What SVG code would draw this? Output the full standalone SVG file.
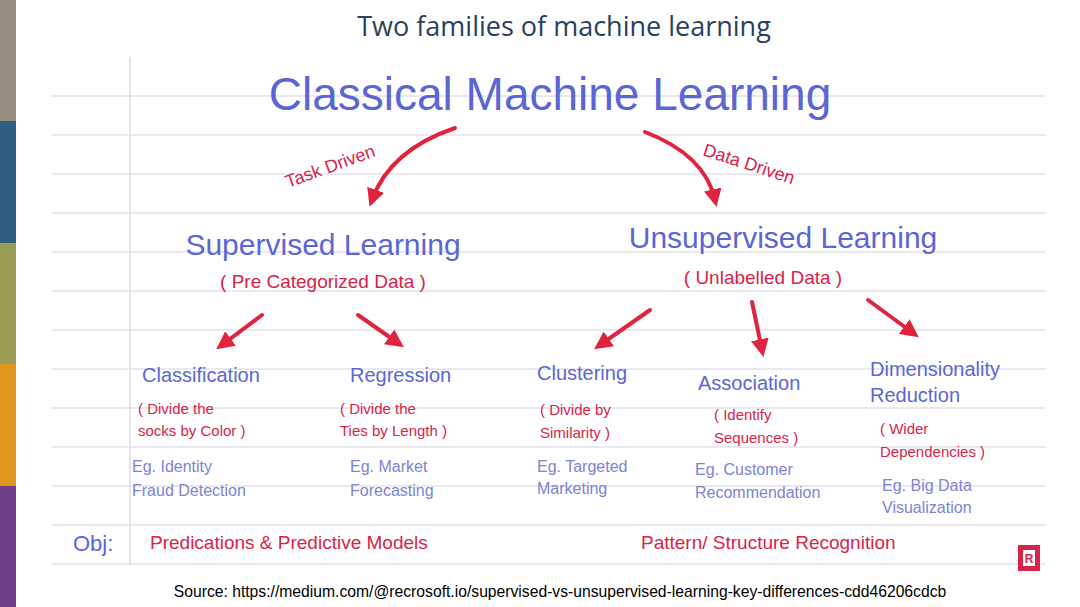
<svg xmlns="http://www.w3.org/2000/svg" width="1080" height="607" viewBox="0 0 1080 607">
<defs>
<style>
.b{fill:#5a66d6;font-family:"Liberation Sans",sans-serif}
.r{fill:#d8234a;font-family:"Liberation Sans",sans-serif}
.p{fill:#d8234a;font-family:"Liberation Sans",sans-serif;font-size:15px}
.e{fill:#7b84d4;font-family:"Liberation Sans",sans-serif;font-size:16px}
.ln{stroke:#e4e2ec;stroke-width:1.5}
.ar{stroke:#e0243f;stroke-width:4;fill:none;stroke-linecap:round}
</style>
<marker id="ah" viewBox="0 0 10 10" refX="6" refY="5" markerWidth="4.5" markerHeight="4.5" orient="auto"><path d="M0,0L10,5L0,10z" fill="#e0243f"/></marker>
</defs>
<rect width="1080" height="607" fill="#fff"/>
<rect x="0" y="0" width="16" height="121" fill="#958d80"/>
<rect x="0" y="121" width="16" height="122" fill="#2f5f7f"/>
<rect x="0" y="243" width="16" height="121" fill="#9a9d55"/>
<rect x="0" y="364" width="16" height="122" fill="#e0961f"/>
<rect x="0" y="486" width="16" height="121" fill="#6f3d8a"/>
<text x="564" y="36" text-anchor="middle" font-family="'Open Sans',sans-serif" font-size="27" fill="#2a3f5f">Two families of machine learning</text>
<g id="paper">
<path class="ln" d="M52 96H1045M52 135H1045M52 174H1045M52 213H1045M52 252H1045M52 291H1045M52 330H1045M52 369H1045M52 408H1045M52 447H1045M52 486H1045M52 525H1045M52 564H1045"/>
<line x1="130" y1="57" x2="130" y2="565" stroke="#e6d8e2" stroke-width="1.5"/>
</g>
<g id="connectors">
<path class="ar" d="M455 128Q390 150 372 200" marker-end="url(#ah)"/>
<path class="ar" d="M645 132Q705 155 715 200" marker-end="url(#ah)"/>
<path class="ar" d="M262 315L222 345" marker-end="url(#ah)"/>
<path class="ar" d="M358 315L398 343" marker-end="url(#ah)"/>
<path class="ar" d="M650 310L600 345" marker-end="url(#ah)"/>
<path class="ar" d="M752 302L762 350" marker-end="url(#ah)"/>
<path class="ar" d="M868 300L913 333" marker-end="url(#ah)"/>
</g>
<g id="root"><text class="b" x="550" y="110" text-anchor="middle" font-size="46">Classical Machine Learning</text></g>
<g id="lbl-task"><text class="r" x="288" y="188" font-size="18" transform="rotate(-20 288 188)">Task Driven</text></g>
<g id="lbl-data"><text class="r" x="702" y="155" font-size="18" transform="rotate(18 702 155)">Data Driven</text></g>
<g id="supervised"><text class="b" x="323" y="255" text-anchor="middle" font-size="30">Supervised Learning</text>
<text class="r" x="323" y="288" text-anchor="middle" font-size="19">( Pre Categorized Data )</text></g>
<g id="unsupervised"><text class="b" x="783" y="248" text-anchor="middle" font-size="30">Unsupervised Learning</text>
<text class="r" x="763" y="284" text-anchor="middle" font-size="19">( Unlabelled Data )</text></g>
<g id="classification"><text class="b" x="142" y="382" font-size="20">Classification</text>
<text class="p" x="138" y="414">( Divide the</text><text class="p" x="138" y="436">socks by Color )</text>
<text class="e" x="132" y="472">Eg. Identity</text><text class="e" x="132" y="496">Fraud Detection</text></g>
<g id="regression"><text class="b" x="350" y="382" font-size="20">Regression</text>
<text class="p" x="340" y="414">( Divide the</text><text class="p" x="340" y="436">Ties by Length )</text>
<text class="e" x="350" y="472">Eg. Market</text><text class="e" x="350" y="496">Forecasting</text></g>
<g id="clustering"><text class="b" x="537" y="380" font-size="20">Clustering</text>
<text class="p" x="540" y="415">( Divide by</text><text class="p" x="540" y="438">Similarity )</text>
<text class="e" x="537" y="472">Eg. Targeted</text><text class="e" x="537" y="494">Marketing</text></g>
<g id="association"><text class="b" x="698" y="390" font-size="20">Association</text>
<text class="p" x="714" y="420">( Identify</text><text class="p" x="714" y="443">Sequences )</text>
<text class="e" x="695" y="475">Eg. Customer</text><text class="e" x="695" y="498">Recommendation</text></g>
<g id="dimensionality"><text class="b" x="870" y="376" font-size="20">Dimensionality</text><text class="b" x="870" y="402" font-size="20">Reduction</text>
<text class="p" x="880" y="434">( Wider</text><text class="p" x="880" y="457">Dependencies )</text>
<text class="e" x="882" y="491">Eg. Big Data</text><text class="e" x="882" y="513">Visualization</text></g>
<g id="obj"><text class="b" x="73" y="551" font-size="22">Obj:</text>
<text class="r" x="150" y="549" font-size="19">Predications &amp; Predictive Models</text>
<text class="r" x="641" y="549" font-size="19">Pattern/ Structure Recognition</text></g>
<g id="logo"><rect x="1018" y="545" width="22" height="26" fill="#d8234a"/><rect x="1023" y="550" width="12" height="16" fill="#fff"/><text x="1029" y="563" text-anchor="middle" font-family="'Liberation Sans',sans-serif" font-weight="bold" font-size="12" fill="#d8234a">R</text></g>
<text x="560" y="597" text-anchor="middle" font-family="'Liberation Sans',sans-serif" font-size="15.7" fill="#000">Source: https://medium.com/@recrosoft.io/supervised-vs-unsupervised-learning-key-differences-cdd46206cdcb</text>
</svg>
